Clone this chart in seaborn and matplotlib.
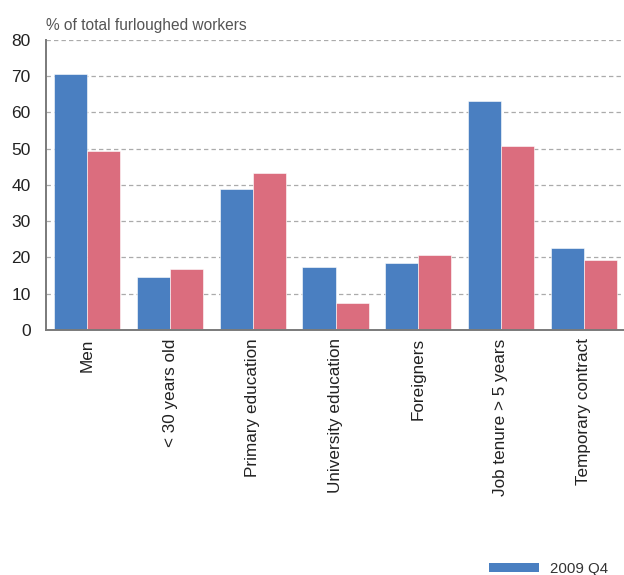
import matplotlib
matplotlib.use("Agg")
import matplotlib.pyplot as plt
import seaborn as sns
import pandas as pd
from matplotlib.patches import Patch

categories = ["Men", "< 30 years old", "Primary education", "University education",
              "Foreigners", "Job tenure > 5 years", "Temporary contract"]
series_names = ["2009 Q4", "2020"]
values_2009 = [70.5, 14.5, 38.8, 17.4, 18.6, 63.1, 22.6]
values_2020 = [49.3, 16.9, 43.4, 7.5, 20.8, 50.7, 19.3]
y_ticks = [0, 10, 20, 30, 40, 50, 60, 70, 80]
y_label = "% of total furloughed workers"

colors = ["#4A7FC1", "#DB6D7E"]

df = pd.DataFrame({
    "category": categories * 2,
    "series": [series_names[0]] * len(categories) + [series_names[1]] * len(categories),
    "value": values_2009 + values_2020,
})

sns.set_style("white")
plt.rcParams["font.family"] = ["Liberation Sans", "DejaVu Sans"]

fig = plt.figure(figsize=(6.24, 5.75), dpi=100)
ax = fig.add_axes([46 / 624, 1 - 330 / 575, 579 / 624, (330 - 39.7) / 575])

sns.barplot(data=df, x="category", y="value", hue="series", order=categories,
            hue_order=series_names, palette=colors, saturation=1, width=0.8,
            edgecolor="white", linewidth=0.4, legend=False, ax=ax)

ax.set_ylim(0, 80)
ax.set_xlim(-0.5, len(categories) - 0.5)
ax.set_yticks(y_ticks)
ax.set_yticklabels([str(t) for t in y_ticks], fontsize=12.5, color="#222222")
ax.set_xlabel("")
ax.set_ylabel("")

# gridlines
for t in y_ticks[1:]:
    ax.axhline(t, color="#ababab", linestyle=(0, (3.5, 2.5)), linewidth=0.9, zorder=0)
ax.set_axisbelow(True)

for s in ["top", "right"]:
    ax.spines[s].set_visible(False)
for s in ["left", "bottom"]:
    ax.spines[s].set_color("#7a7a7a")
    ax.spines[s].set_linewidth(1.4)

ax.tick_params(axis="y", length=0, pad=11)
ax.set_xticks(range(len(categories)))
ax.set_xticklabels(categories, rotation=90, fontsize=12.3, color="#222222", va="top")
ax.tick_params(axis="x", length=0, pad=6)
ax.set_xticks([i + 0.5 for i in range(len(categories) - 1)], minor=True)
ax.tick_params(axis="x", which="minor", direction="in", length=3.5, width=1.2,
               color="#7a7a7a")

fig.text(46 / 624, 1 - 30 / 575, y_label, fontsize=11.2, color="#555555",
         ha="left", va="baseline")

handle = Patch(facecolor=colors[0], edgecolor="none")
fig.legend(handles=[handle], labels=[series_names[0]], loc="center left",
           bbox_to_anchor=(489 / 624, (575 - 569) / 575), frameon=False,
           borderpad=0, borderaxespad=0, handlelength=3.3, handleheight=0.5,
           handletextpad=0.8, fontsize=10.8, labelcolor="#333333")

fig.savefig("out.png", dpi=100)
